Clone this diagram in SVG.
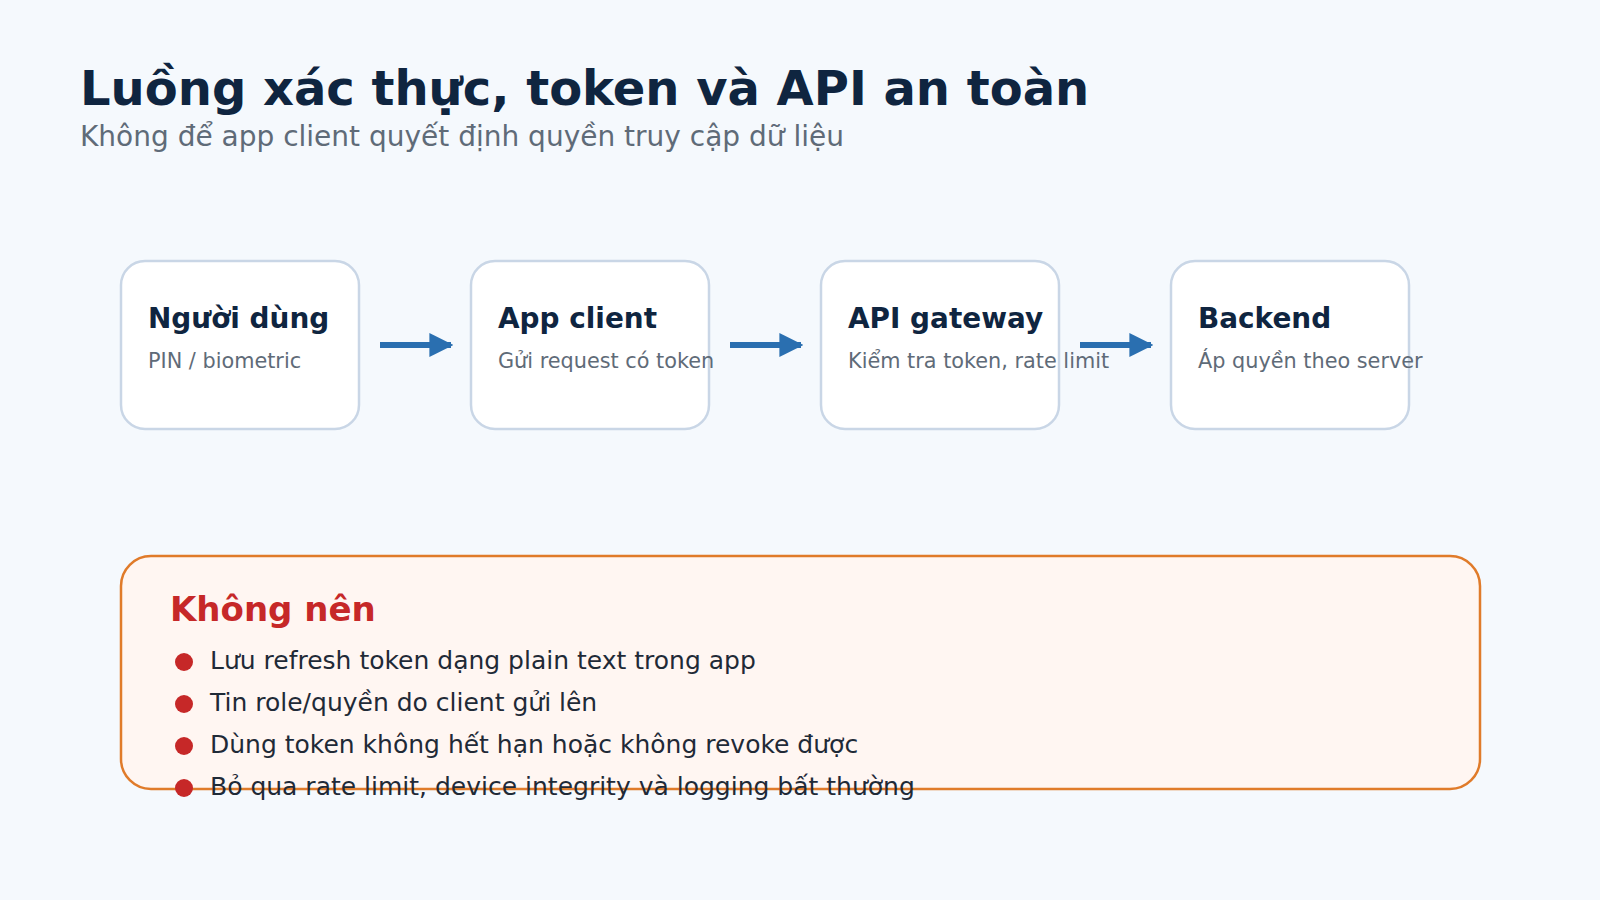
<svg xmlns="http://www.w3.org/2000/svg" width="1600" height="900" viewBox="0 0 1600 900">
<style>
text{font-family:"DejaVu Sans",sans-serif}
.box{fill:#fff;stroke:#c9d6e6;stroke-width:2.5}
.nt{font-size:27.9px;font-weight:bold;fill:#0f2540}
.ns{font-size:20.8px;fill:#5f6b78}
.li{font-size:25px;fill:#1f2a37}
.dot{fill:#c62828}
.ar{stroke:#2a6fb0;stroke-width:6;fill:none;marker-end:url(#ah)}
</style>
<defs><marker id="ah" viewBox="0 0 10 10" refX="9" refY="5" markerWidth="4" markerHeight="4.4" orient="auto" markerUnits="strokeWidth"><path d="M0,0L10,5L0,10z" fill="#2a6fb0"/></marker></defs>
<rect width="1600" height="900" fill="#f5f9fd"/>
<text x="80" y="105" font-size="48" font-weight="bold" fill="#0f2540">Luồng xác thực, token và API an toàn</text>
<text x="80" y="146" font-size="28" fill="#5f6b78">Không để app client quyết định quyền truy cập dữ liệu</text>
<g id="n1"><rect class="box" x="121" y="261" width="238" height="168" rx="24"/><text class="nt" x="148" y="328">Người dùng</text><text class="ns" x="148" y="368">PIN / biometric</text></g>
<g id="n2"><rect class="box" x="471" y="261" width="238" height="168" rx="24"/><text class="nt" x="498" y="328">App client</text><text class="ns" x="498" y="368">Gửi request có token</text></g>
<g id="n3"><rect class="box" x="821" y="261" width="238" height="168" rx="24"/><text class="nt" x="848" y="328">API gateway</text><text class="ns" x="848" y="368">Kiểm tra token, rate limit</text></g>
<g id="n4"><rect class="box" x="1171" y="261" width="238" height="168" rx="24"/><text class="nt" x="1198" y="328">Backend</text><text class="ns" x="1198" y="368">Áp quyền theo server</text></g>
<g id="connectors">
<line class="ar" x1="380" y1="345" x2="451" y2="345"/>
<line class="ar" x1="730" y1="345" x2="801" y2="345"/>
<line class="ar" x1="1080" y1="345" x2="1151" y2="345"/>
</g>
<g id="warn">
<rect x="121" y="556" width="1359" height="233" rx="30" fill="#fff6f2" stroke="#e07b2a" stroke-width="2.5"/>
<text x="170" y="621" font-size="34" font-weight="bold" fill="#c62828">Không nên</text>
<circle class="dot" cx="184" cy="662" r="9"/><text class="li" x="210" y="669">Lưu refresh token dạng plain text trong app</text>
<circle class="dot" cx="184" cy="704" r="9"/><text class="li" x="210" y="711">Tin role/quyền do client gửi lên</text>
<circle class="dot" cx="184" cy="746" r="9"/><text class="li" x="210" y="753">Dùng token không hết hạn hoặc không revoke được</text>
<circle class="dot" cx="184" cy="788" r="9"/><text class="li" x="210" y="795">Bỏ qua rate limit, device integrity và logging bất thường</text>
</g>
</svg>
